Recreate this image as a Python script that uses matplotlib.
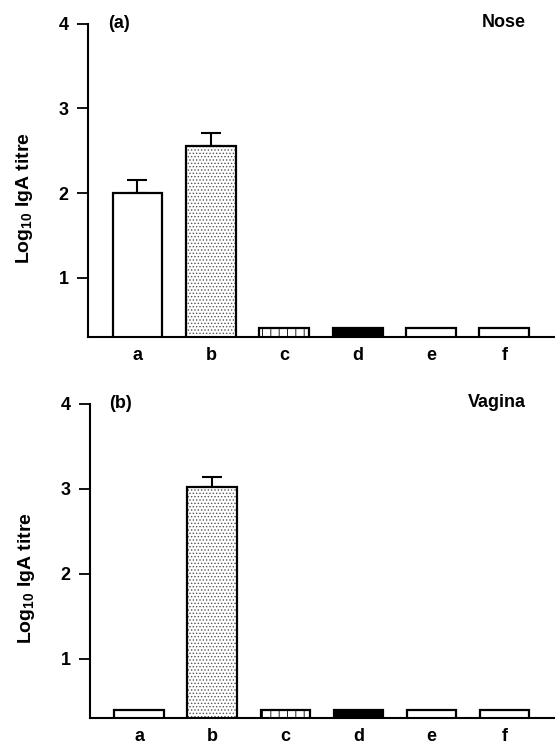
import numpy as np
import matplotlib
matplotlib.use('Agg')
import matplotlib.pyplot as plt

#%% Data
groups = ['a', 'b', 'c', 'd', 'e', 'f']

nose_mean = [2.00, 2.56, 0.40, 0.40, 0.40, 0.40]
nose_err = [0.16, 0.15, 0.0, 0.0, 0.0, 0.0]

vagina_mean = [0.40, 3.02, 0.40, 0.40, 0.40, 0.40]
vagina_err = [0.0, 0.12, 0.0, 0.0, 0.0, 0.0]

yticks = [1, 2, 3, 4]

#%% Style
plt.rcParams['font.family'] = ['Liberation Sans', 'DejaVu Sans']
plt.rcParams['font.size'] = 13
plt.rcParams['font.weight'] = 'bold'
plt.rcParams['axes.labelweight'] = 'bold'
plt.rcParams['mathtext.fontset'] = 'custom'
plt.rcParams['mathtext.rm'] = 'Liberation Sans:bold'
plt.rcParams['mathtext.it'] = 'Liberation Sans:bold'
plt.rcParams['mathtext.bf'] = 'Liberation Sans:bold'
plt.rcParams['mathtext.default'] = 'rm'
plt.rcParams['hatch.linewidth'] = 0.6

fills = ['white', 'white', 'white', 'black', 'white', 'white']
hatches = ['', '.....', '||', '', '', '']
hatch_colors = ['black', '#555555', 'black', 'black', 'black', 'black']

fig = plt.figure(figsize=(5.55, 7.47), dpi=100)
ax1 = fig.add_axes([0.1586, 0.549, 0.8414, 0.419])
ax2 = fig.add_axes([0.1622, 0.0388, 0.8378, 0.4204])


def draw_panel(ax, means, errs, tag, site):
    x = np.arange(len(groups))
    width = 0.68
    # hatch layer first, then the outline on top
    for i in range(len(groups)):
        ax.bar(x[i], means[i], width, color=fills[i], hatch=hatches[i],
               edgecolor=hatch_colors[i], linewidth=0, zorder=2)
    ax.bar(x, means, width, color='none', edgecolor='black',
           linewidth=1.6, zorder=3)
    # only the upper half of the error bars
    mask = [e > 0 for e in errs]
    xe = x[mask]
    ye = np.array(means)[mask]
    ee = np.array(errs)[mask]
    ax.errorbar(xe, ye, yerr=[np.zeros_like(ee), ee], fmt='none',
                ecolor='black', elinewidth=1.5, capsize=7, capthick=1.5,
                zorder=1)

    ax.set_xlim(-0.674, 5.69)
    ax.set_ylim(0.3, 4)
    ax.set_yticks(yticks)
    ax.set_xticks(x)
    ax.set_xticklabels(groups)
    ax.tick_params(axis='x', length=0, pad=7, labelsize=13)
    ax.tick_params(axis='y', length=8, width=1.3, pad=6, labelsize=13)

    for s in ['top', 'right']:
        ax.spines[s].set_visible(False)
    for s in ['left', 'bottom']:
        ax.spines[s].set_linewidth(1.5)

    ax.set_ylabel(r'Log$_{10}$ IgA titre', fontsize=14, fontweight='bold')
    ax.yaxis.set_label_coords(-0.113, 0.445)
    ax.text(0.042, 1.0, tag, transform=ax.transAxes, fontsize=13,
            ha='left', va='center')
    ax.text(0.937, 1.005, site, transform=ax.transAxes, fontsize=13,
            ha='right', va='center')


draw_panel(ax1, nose_mean, nose_err, '(a)', 'Nose')
draw_panel(ax2, vagina_mean, vagina_err, '(b)', 'Vagina')

fig.savefig('out.png', dpi=100)
